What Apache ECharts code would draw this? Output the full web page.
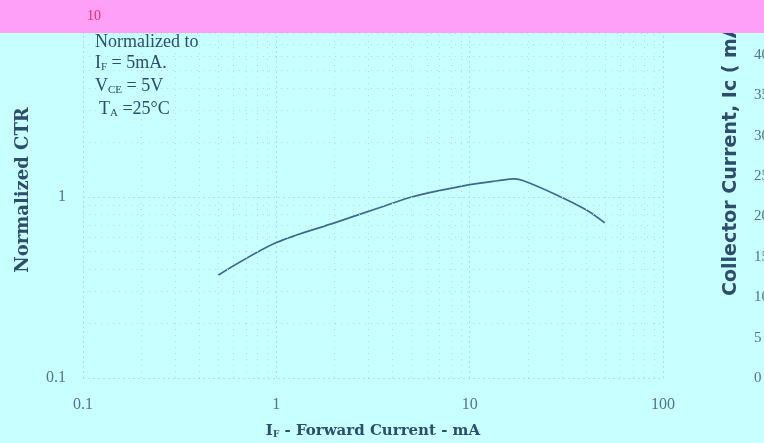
<!DOCTYPE html>
<html>
<head>
<meta charset="utf-8">
<script src="https://cdn.jsdelivr.net/npm/echarts@6/dist/echarts.min.js"></script>
<style>html,body{margin:0;padding:0;background:#c8ffff;}#chart{width:764px;height:443px;}</style>
</head>
<body>
<div id="chart"></div>
<script>
// Data
const forwardCurrent = [0.5, 1, 2, 3.5, 5, 10, 14, 17, 19, 28, 40, 50];
const normalizedCTR  = [0.37, 0.56, 0.72, 0.88, 1.0, 1.17, 1.23, 1.26, 1.23, 1.03, 0.85, 0.72];
const xTickLabels = ['0.1', '1', '10', '100'];
const yTickLabels = ['0.1', '1', '10'];
const rightTickLabels = ['0', '5', '10', '15', '20', '25', '30', '35', '40'];

// minor log grid values (2..9 of each decade)
const xMinor = [], yMinor = [];
[0.1, 1, 10].forEach(d => { for (let k = 2; k <= 9; k++) xMinor.push(+(d * k).toPrecision(3)); });
[0.1, 1].forEach(d => { for (let k = 2; k <= 9; k++) yMinor.push(+(d * k).toPrecision(3)); });

const gridColor = '#a3e4f3';
const labelColor = '#56728c';
const titleColor = '#2d4d6b';
const serif = '"Liberation Serif", "DejaVu Serif", serif';
const wideSerif = '"DejaVu Serif", serif';

const chart = echarts.init(document.getElementById('chart'));
chart.setOption({
  backgroundColor: '#c8ffff',
  animation: false,
  grid: { left: 83, right: 101, top: 16, bottom: 65, containLabel: false, outerBoundsMode: 'none' },
  xAxis: {
    type: 'log', logBase: 10, min: 0.1, max: 100,
    axisLine: { show: false }, axisTick: { show: false },
    splitLine: { show: true, lineStyle: { color: gridColor, type: [2, 3], width: 1 } },
    axisLabel: { color: labelColor, fontFamily: serif, fontSize: 16, margin: 19,
      formatter: v => xTickLabels.find(t => Math.abs(parseFloat(t) - v) < 1e-9) || '' },
    name: '{b|I}{s|F}{b| - Forward Current - mA}',
    nameLocation: 'middle', nameGap: 45,
    nameTextStyle: { rich: {
      b: { fontFamily: wideSerif, fontWeight: 'bold', fontSize: 15, color: titleColor },
      s: { fontFamily: wideSerif, fontWeight: 'bold', fontSize: 9, color: titleColor, verticalAlign: 'bottom', padding: [7, 0, 0, 0] }
    } }
  },
  yAxis: [{
    type: 'log', logBase: 10, min: 0.1, max: 10,
    axisLine: { show: false }, axisTick: { show: false },
    splitLine: { show: true, lineStyle: { color: gridColor, type: [2, 3], width: 1 } },
    axisLabel: { color: labelColor, fontFamily: serif, fontSize: 16, margin: 17,
      formatter: v => (Math.abs(v - 10) < 1e-9 ? '' : (yTickLabels.find(t => Math.abs(parseFloat(t) - v) < 1e-9) || '')) },
    name: 'Normalized CTR', nameLocation: 'middle', nameGap: 51,
    nameTextStyle: { fontFamily: wideSerif, fontWeight: 'bold', fontSize: 18, color: titleColor, padding: [0, 0, 0, 14] }
  }, {
    type: 'value', min: 0, max: 44.8, interval: 5, position: 'right', offset: 82,
    axisLine: { show: false }, axisTick: { show: false }, splitLine: { show: false },
    axisLabel: { color: labelColor, fontFamily: serif, fontSize: 15, margin: 9,
      formatter: v => rightTickLabels.includes(String(v)) ? String(v) : '' }
  }],
  series: [{
    type: 'line',
    data: forwardCurrent.map((x, i) => [x, normalizedCTR[i]]),
    showSymbol: false, smooth: 0.3,
    lineStyle: { color: '#41698c', width: 1.7 },
    z: 3,
    markLine: {
      silent: true, symbol: 'none', label: { show: false }, animation: false,
      lineStyle: { color: gridColor, type: [1, 5], width: 1 },
      data: xMinor.map(v => ({ xAxis: v })).concat(yMinor.map(v => ({ yAxis: v })))
    }
  }],
  graphic: [
    { type: 'text', z: 5, rotation: Math.PI / 2, x: 731, y: 296,
      style: { text: 'Collector Current, Ic ( mA )', font: 'bold 19px "DejaVu Sans", sans-serif', fill: titleColor, textAlign: 'left', textVerticalAlign: 'middle' } },
    { type: 'rect', z: 10, shape: { x: 0, y: 0, width: 764, height: 33 }, style: { fill: '#ffa0f8' } },
    { type: 'text', z: 11, x: 87, y: 9, style: { text: '10', font: '14px "Liberation Serif", serif', fill: '#e8305a' } },
    { type: 'text', z: 11, x: 95, y: 33, style: { text: 'Normalized to', font: '18px "Liberation Serif", serif', fill: titleColor } },
    { type: 'text', z: 11, x: 95, y: 53, style: { rich: {
        n: { font: '18px "Liberation Serif", serif', fill: titleColor },
        s: { font: '11px "Liberation Serif", serif', fill: titleColor, padding: [9, 0, 0, 0] } },
        text: '{n|I}{s|F}{n| = 5mA.}' } },
    { type: 'text', z: 11, x: 95, y: 76, style: { rich: {
        n: { font: '18px "Liberation Serif", serif', fill: titleColor },
        s: { font: '11px "Liberation Serif", serif', fill: titleColor, padding: [9, 0, 0, 0] } },
        text: '{n|V}{s|CE}{n| = 5V}' } },
    { type: 'text', z: 11, x: 99, y: 99, style: { rich: {
        n: { font: '18px "Liberation Serif", serif', fill: titleColor },
        s: { font: '11px "Liberation Serif", serif', fill: titleColor, padding: [9, 0, 0, 0] } },
        text: '{n|T}{s|A}{n| =25°C}' } }
  ]
});
</script>
</body>
</html>
